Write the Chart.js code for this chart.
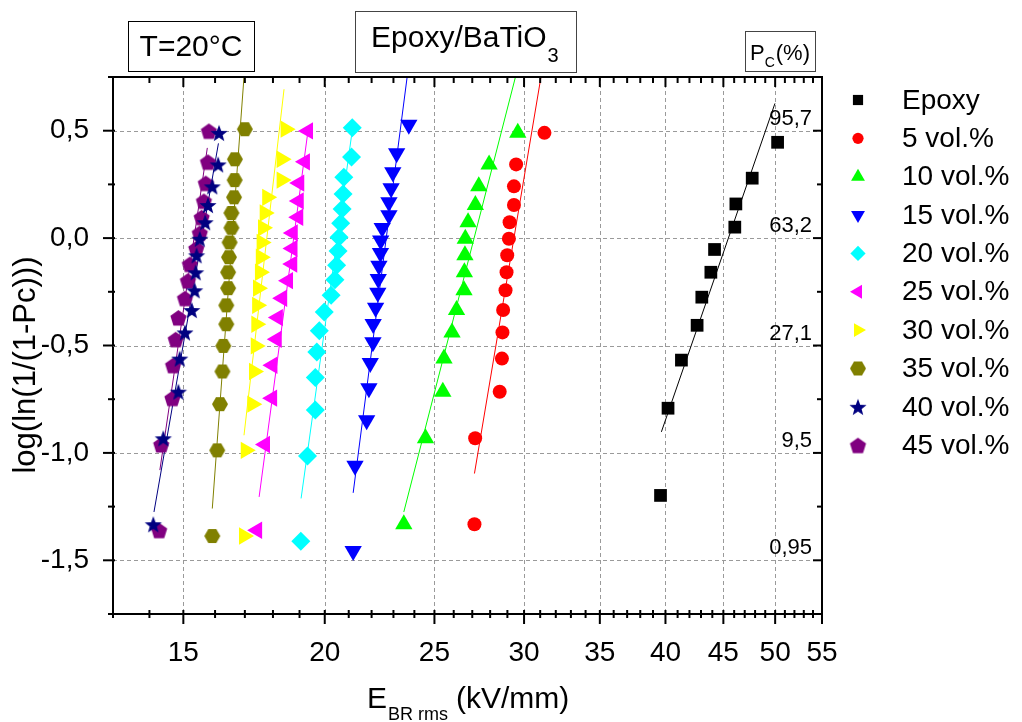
<!DOCTYPE html>
<html lang="en">
<head>
    <meta charset="UTF-8">
    <title>Epoxy/BaTiO3 Weibull plot</title>
    <script src="https://cdn.jsdelivr.net/npm/chart.js"></script>
    <style>
        body { margin: 0; background: #fff; }
        canvas { display: block; }
    </style>
</head>
<body>
    <canvas id="weibullChart" width="1022" height="722"></canvas>

    <script>
        // Breakdown field E (kV/mm) and log(ln(1/(1-Pc))) for every sample series
        const epoxyX = [39.60, 40.21, 41.32, 42.66, 43.07, 43.87, 44.20, 46.06, 46.16, 47.72, 50.25];
        const epoxyY = [-1.198, -0.792, -0.568, -0.406, -0.275, -0.159, -0.053, 0.051, 0.159, 0.279, 0.446];

        const vol5X = [27.12, 27.16, 28.55, 28.68, 28.71, 28.75, 28.89, 28.95, 28.99, 29.09, 29.13, 29.39, 29.39, 29.52, 31.27];
        const vol5Y = [-1.332, -0.932, -0.715, -0.561, -0.439, -0.335, -0.243, -0.159, -0.080, -0.003, 0.074, 0.154, 0.241, 0.343, 0.490];

        const vol10X = [23.49, 24.55, 25.43, 25.49, 25.91, 26.15, 26.55, 26.57, 26.60, 26.62, 26.77, 27.17, 27.36, 27.94, 29.62];
        const vol10Y = [-1.332, -0.932, -0.715, -0.561, -0.439, -0.335, -0.243, -0.159, -0.080, -0.003, 0.074, 0.154, 0.241, 0.343, 0.490];

        const vol15X = [21.19, 21.27, 21.78, 21.88, 21.94, 22.06, 22.07, 22.18, 22.28, 22.30, 22.33, 22.40, 22.41, 22.48, 22.79, 22.79, 22.89, 22.97, 23.15, 23.73];
        const vol15Y = [-1.457, -1.060, -0.848, -0.699, -0.582, -0.485, -0.400, -0.324, -0.255, -0.190, -0.129, -0.069, -0.011, 0.047, 0.106, 0.167, 0.232, 0.306, 0.395, 0.528];

        const vol20X = [19.05, 19.31, 19.62, 19.62, 19.68, 19.78, 19.98, 20.26, 20.42, 20.49, 20.55, 20.59, 20.66, 20.72, 20.76, 20.79, 21.12, 21.15];
        const vol20Y = [-1.411, -1.014, -0.800, -0.649, -0.530, -0.431, -0.344, -0.266, -0.194, -0.126, -0.060, 0.004, 0.069, 0.135, 0.205, 0.283, 0.377, 0.514];

        const vol25X = [17.43, 17.71, 17.97, 17.98, 18.14, 18.18, 18.34, 18.56, 18.72, 18.73, 18.74, 18.95, 18.97, 18.99, 19.21, 19.33];
        const vol25Y = [-1.360, -0.961, -0.745, -0.592, -0.471, -0.370, -0.280, -0.198, -0.121, -0.048, 0.024, 0.097, 0.173, 0.256, 0.355, 0.499];

        const vol30X = [16.97, 17.03, 17.26, 17.32, 17.38, 17.40, 17.43, 17.46, 17.53, 17.56, 17.59, 17.64, 17.70, 17.79, 18.32, 18.32, 18.47];
        const vol30Y = [-1.387, -0.988, -0.773, -0.621, -0.502, -0.401, -0.313, -0.233, -0.159, -0.089, -0.020, 0.048, 0.117, 0.190, 0.270, 0.367, 0.507];

        const vol35X = [15.91, 16.07, 16.16, 16.24, 16.27, 16.37, 16.37, 16.43, 16.43, 16.46, 16.48, 16.54, 16.54, 16.63, 16.65, 16.66, 17.00];
        const vol35Y = [-1.387, -0.988, -0.773, -0.621, -0.502, -0.401, -0.313, -0.233, -0.159, -0.089, -0.020, 0.048, 0.117, 0.190, 0.270, 0.367, 0.507];

        const vol40X = [14.11, 14.40, 14.85, 14.89, 15.05, 15.26, 15.35, 15.38, 15.41, 15.51, 15.68, 15.77, 15.91, 16.10, 16.13];
        const vol40Y = [-1.332, -0.932, -0.715, -0.561, -0.439, -0.335, -0.243, -0.159, -0.080, -0.003, 0.074, 0.154, 0.241, 0.343, 0.490];

        const vol45X = [14.28, 14.34, 14.67, 14.69, 14.77, 14.85, 15.05, 15.14, 15.20, 15.40, 15.51, 15.57, 15.64, 15.70, 15.77, 15.80];
        const vol45Y = [-1.360, -0.961, -0.745, -0.592, -0.471, -0.370, -0.280, -0.198, -0.121, -0.048, 0.024, 0.097, 0.173, 0.256, 0.355, 0.499];

        // Fitted Weibull lines (start and end point of each)
        const epoxyFitX = [39.67, 49.98];  const epoxyFitY = [-0.902, 0.627];
        const vol5FitX = [27.12, 31.05];   const vol5FitY = [-1.096, 0.75];
        const vol10FitX = [23.49, 29.48];  const vol10FitY = [-1.275, 0.75];
        const vol15FitX = [21.19, 23.65];  const vol15FitY = [-1.186, 0.75];
        const vol20FitX = [19.06, 21.15];  const vol20FitY = [-1.212, 0.50];
        const vol25FitX = [17.50, 19.33];  const vol25FitY = [-1.205, 0.50];
        const vol30FitX = [16.97, 18.41];  const vol30FitY = [-0.918, 0.693];
        const vol35FitX = [15.91, 16.97];  const vol35FitY = [-1.259, 0.75];
        const vol40FitX = [14.13, 16.11];  const vol40FitY = [-1.275, 0.441];
        const vol45FitX = [14.30, 15.75];  const vol45FitY = [-1.08, 0.42];

        const seriesNames = ['Epoxy', '5 vol.%', '10 vol.%', '15 vol.%', '20 vol.%', '25 vol.%', '30 vol.%', '35 vol.%', '40 vol.%', '45 vol.%'];
        const seriesColors = ['#000000', '#ff0000', '#00ff00', '#0000ff', '#00ffff', '#ff00ff', '#ffff00', '#808000', '#000080', '#800080'];

        // Axis ticks and labels
        const xMajorTicks = [15, 20, 25, 30, 35, 40, 45, 50, 55];
        const xTickLabels = ['15', '20', '25', '30', '35', '40', '45', '50', '55'];
        const yMajorTicks = [-1.5, -1.0, -0.5, 0.0, 0.5];
        const yTickLabels = ['-1,5', '-1,0', '-0,5', '0,0', '0,5'];
        const yMinorTicks = [-1.75, -1.25, -0.75, -0.25, 0.25, 0.75];

        // Probability levels written at the right of the plot
        const pcLabels = ['95,7', '63,2', '27,1', '9,5', '0,95'];
        const pcLabelY = [0.5, 0.0, -0.5, -1.0, -1.5];

        const pointX = [epoxyX, vol5X, vol10X, vol15X, vol20X, vol25X, vol30X, vol35X, vol40X, vol45X];
        const pointY = [epoxyY, vol5Y, vol10Y, vol15Y, vol20Y, vol25Y, vol30Y, vol35Y, vol40Y, vol45Y];
        const fitX = [epoxyFitX, vol5FitX, vol10FitX, vol15FitX, vol20FitX, vol25FitX, vol30FitX, vol35FitX, vol40FitX, vol45FitX];
        const fitY = [epoxyFitY, vol5FitY, vol10FitY, vol15FitY, vol20FitY, vol25FitY, vol30FitY, vol35FitY, vol40FitY, vol45FitY];

        const FONT = "'Liberation Sans', Arial, sans-serif";

        // small canvases for the marker shapes Chart.js doesn't have
        function shapeCanvas(kind, color, r) {
            const s = Math.ceil(r * 2 + 2);
            const c = document.createElement('canvas');
            c.width = s;
            c.height = s;
            const g = c.getContext('2d');
            const cx = s / 2, cy = s / 2;
            g.fillStyle = color;
            g.beginPath();
            if (kind === 'hexagon') {
                for (let k = 0; k < 6; k++) {
                    const a = Math.PI / 3 * k;
                    g.lineTo(cx + r * Math.cos(a), cy + r * Math.sin(a));
                }
            } else if (kind === 'pentagon') {
                for (let k = 0; k < 5; k++) {
                    const a = -Math.PI / 2 + 2 * Math.PI / 5 * k;
                    g.lineTo(cx + r * Math.cos(a), cy + 1 + r * Math.sin(a));
                }
            } else {
                for (let k = 0; k < 10; k++) {
                    const a = -Math.PI / 2 + Math.PI / 5 * k;
                    const rr = k % 2 ? r * 0.42 : r;
                    g.lineTo(cx + rr * Math.cos(a), cy + 1 + rr * Math.sin(a));
                }
            }
            g.closePath();
            g.fill();
            return c;
        }

        const markers = [
            { style: 'rect', radius: 9, rotation: 0 },
            { style: 'circle', radius: 7, rotation: 0 },
            { style: 'triangle', radius: 10, rotation: 0 },
            { style: 'triangle', radius: 10, rotation: 180 },
            { style: 'rectRot', radius: 9.5, rotation: 0 },
            { style: 'triangle', radius: 10, rotation: 270 },
            { style: 'triangle', radius: 10, rotation: 90 },
            { style: shapeCanvas('hexagon', seriesColors[7], 8), radius: 8, rotation: 0 },
            { style: shapeCanvas('star', seriesColors[8], 9), radius: 9, rotation: 0 },
            { style: shapeCanvas('pentagon', seriesColors[9], 8.5), radius: 8.5, rotation: 0 }
        ];

        const datasets = [];
        seriesNames.forEach((name, i) => {
            datasets.push({
                label: name,
                data: pointX[i].map((v, k) => ({ x: v, y: pointY[i][k] })),
                showLine: false,
                pointStyle: markers[i].style,
                pointRadius: markers[i].radius,
                pointRotation: markers[i].rotation,
                backgroundColor: seriesColors[i],
                borderColor: seriesColors[i],
                pointBorderWidth: 0,
                order: 0
            });
            datasets.push({
                label: name + ' fit',
                data: fitX[i].map((v, k) => ({ x: v, y: fitY[i][k] })),
                showLine: true,
                pointRadius: 0,
                borderColor: seriesColors[i],
                borderWidth: 1,
                order: 1
            });
        });

        function line(ctx, x1, y1, x2, y2) {
            ctx.beginPath();
            ctx.moveTo(x1, y1);
            ctx.lineTo(x2, y2);
            ctx.stroke();
        }

        // dashed grid, frame, tick marks, legend and the text boxes
        const decorations = {
            id: 'decorations',
            beforeDatasetsDraw(chart) {
                const { ctx, chartArea: a, scales: { x, y } } = chart;
                ctx.save();
                ctx.strokeStyle = '#9a9a9a';
                ctx.lineWidth = 1;
                ctx.setLineDash([4, 3]);
                xMajorTicks.forEach(v => {
                    const px = Math.round(x.getPixelForValue(v)) + 0.5;
                    line(ctx, px, a.top, px, a.bottom);
                });
                yMajorTicks.forEach(v => {
                    const py = Math.round(y.getPixelForValue(v)) + 0.5;
                    line(ctx, a.left, py, a.right, py);
                });
                ctx.restore();
            },
            afterDraw(chart) {
                const { ctx, chartArea: a, scales: { x, y } } = chart;
                ctx.save();
                ctx.strokeStyle = '#000';
                ctx.lineWidth = 2;
                line(ctx, a.left, a.top, a.right + 1, a.top);
                line(ctx, a.right, a.top, a.right, a.bottom);

                // x ticks every 1 kV/mm
                for (let v = 13; v <= 55; v++) {
                    const major = xMajorTicks.includes(v);
                    const px = x.getPixelForValue(v);
                    line(ctx, px, a.bottom - 4, px, a.bottom + (major ? 10 : 4));
                    line(ctx, px, a.top, px, a.top + (major ? 10 : 6));
                }
                yMajorTicks.concat(yMinorTicks).forEach(v => {
                    const major = yMajorTicks.includes(v);
                    const py = y.getPixelForValue(v);
                    line(ctx, a.left - (major ? 10 : 5), py, a.left + 2, py);
                    line(ctx, a.right - (major ? 9 : 5), py, a.right, py);
                });

                // probability labels
                ctx.fillStyle = '#000';
                ctx.font = '22px ' + FONT;
                ctx.textAlign = 'right';
                ctx.textBaseline = 'alphabetic';
                pcLabels.forEach((t, i) => {
                    ctx.fillText(t, 812, y.getPixelForValue(pcLabelY[i]) - 6);
                });

                // legend
                ctx.font = '28px ' + FONT;
                ctx.textAlign = 'left';
                ctx.textBaseline = 'middle';
                seriesNames.forEach((name, i) => {
                    const ly = 100 + 38.35 * i;
                    ctx.fillStyle = seriesColors[i];
                    if (Chart.helpers && Chart.helpers.drawPoint) {
                        Chart.helpers.drawPoint(ctx, {
                            pointStyle: markers[i].style,
                            radius: markers[i].radius * 0.8,
                            rotation: markers[i].rotation,
                            borderWidth: 0
                        }, 858, ly);
                    }
                    ctx.fillStyle = '#000';
                    ctx.fillText(name, 902, ly + 1);
                });

                // boxed annotations
                ctx.lineWidth = 1;
                ctx.strokeStyle = '#000';
                ctx.strokeRect(128.5, 21.5, 126, 50);
                ctx.strokeStyle = '#444';
                ctx.strokeRect(355.5, 11.5, 221, 61);
                ctx.strokeRect(745.5, 31.5, 70, 40);

                ctx.fillStyle = '#000';
                ctx.textBaseline = 'alphabetic';
                ctx.textAlign = 'center';
                ctx.font = '30px ' + FONT;
                ctx.fillText('T=20°C', 191, 56);

                ctx.textAlign = 'left';
                ctx.fillText('Epoxy/BaTiO', 371, 47);
                let w = ctx.measureText('Epoxy/BaTiO').width;
                ctx.font = '20px ' + FONT;
                ctx.fillText('3', 371 + w + 1, 62);

                ctx.font = '22px ' + FONT;
                ctx.fillText('P', 750, 60);
                w = ctx.measureText('P').width;
                ctx.font = '14px ' + FONT;
                ctx.fillText('C', 750 + w, 67);
                const wc = ctx.measureText('C').width;
                ctx.font = '22px ' + FONT;
                ctx.fillText('(%)', 750 + w + wc + 1, 60);

                // x axis title with subscript
                ctx.font = '30px ' + FONT;
                ctx.fillText('E', 367, 708);
                w = ctx.measureText('E').width;
                ctx.font = '18px ' + FONT;
                ctx.fillText('BR rms', 367 + w + 1, 720);
                const ws = ctx.measureText('BR rms').width;
                ctx.font = '30px ' + FONT;
                ctx.fillText('(kV/mm)', 367 + w + ws + 9, 708);

                // y axis title
                ctx.save();
                ctx.translate(35, 365);
                ctx.rotate(-Math.PI / 2);
                ctx.textAlign = 'center';
                ctx.font = '31px ' + FONT;
                ctx.fillText('log(ln(1/(1-Pc)))', 0, 0);
                ctx.restore();

                ctx.restore();
            }
        };

        Chart.defaults.font.family = FONT;
        Chart.defaults.color = '#000';

        new Chart(document.getElementById('weibullChart').getContext('2d'), {
            type: 'scatter',
            data: { datasets: datasets },
            options: {
                responsive: false,
                devicePixelRatio: 1,
                animation: false,
                events: [],
                layout: { padding: { top: 77, right: 200, bottom: 0, left: 0 } },
                plugins: {
                    legend: { display: false },
                    tooltip: { enabled: false }
                },
                scales: {
                    x: {
                        type: 'logarithmic',
                        min: 13,
                        max: 55,
                        afterBuildTicks: s => { s.ticks = xMajorTicks.map(v => ({ value: v })); },
                        afterFit: s => { s.height = 108; },
                        grid: { display: false },
                        border: { display: true, color: '#000', width: 2 },
                        ticks: {
                            autoSkip: false,
                            maxRotation: 0,
                            padding: 14,
                            font: { size: 28 },
                            callback: (v, i) => xTickLabels[i]
                        }
                    },
                    y: {
                        type: 'linear',
                        min: -1.75,
                        max: 0.75,
                        afterBuildTicks: s => { s.ticks = yMajorTicks.map(v => ({ value: v })); },
                        afterFit: s => { s.width = 113; },
                        grid: { display: false },
                        border: { display: true, color: '#000', width: 2 },
                        ticks: {
                            autoSkip: false,
                            padding: 16,
                            font: { size: 28 },
                            callback: (v, i) => yTickLabels[i]
                        }
                    }
                }
            },
            plugins: [decorations]
        });
    </script>
</body>
</html>
